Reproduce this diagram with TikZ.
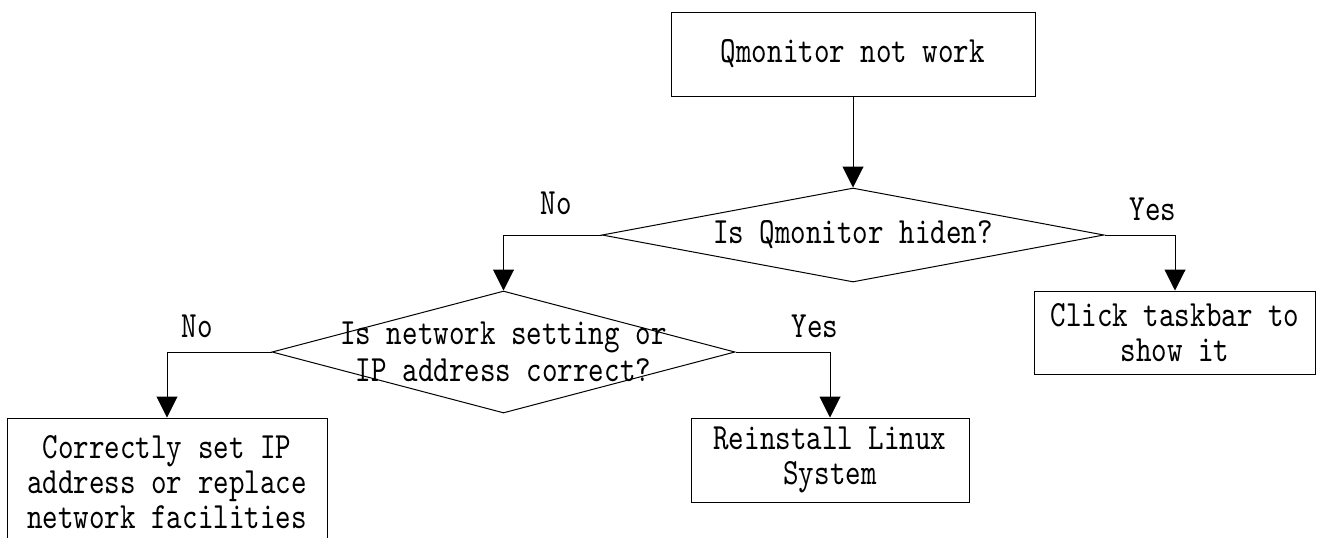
\documentclass[tikz,border=0pt]{standalone}
\usepackage{fontspec}
\newfontfamily\flowfont{lmmono10-regular.otf}[FakeStretch=0.80]
\usetikzlibrary{arrows.meta,shapes.geometric}
\tikzset{
  flowtext/.style={font=\flowfont\fontsize{27.75}{26.25}\selectfont},
  stepbox/.style={draw,rectangle,line width=0.75pt,align=center,inner sep=0pt,flowtext},
  decide/.style={draw,diamond,line width=0.75pt,inner sep=0pt},
  question/.style={align=center,inner sep=0pt,flowtext},
  answer/.style={anchor=base,inner sep=0pt,flowtext},
  flow/.style={-{Triangle[length=15.75pt,width=15.75pt]},line width=0.75pt}
}

\begin{document}
\begin{tikzpicture}[x=0.75pt,y=-0.75pt]
\clip (0,0) rectangle (1322,537);

\node[stepbox,minimum width=273pt,minimum height=63pt] (start) at (853,54) {Qmonitor not work};
\node[decide,minimum width=376.5pt,minimum height=70.5pt] (hidden) at (853,235) {};
\node[question] (hiddentxt) at (hidden) {Is Qmonitor hiden?};
\node[decide,minimum width=347.25pt,minimum height=91.5pt] (net) at (503.5,352) {};
\node[question] (nettxt) at (net) {Is network setting or\\[1.5pt]IP address correct?};
\node[stepbox,minimum width=210.75pt,minimum height=62.25pt] (taskbar) at (1175,332.5) {Click taskbar to\\show it};
\node[stepbox,minimum width=240pt,minimum height=96pt] (fixip) at (167,482) {Correctly set IP\\address or replace\\network facilities};
\node[stepbox,minimum width=208.5pt,minimum height=63pt] (reinstall) at (830,460) {Reinstall Linux\\System};

\node[answer] (hno) at (556,214) {No};
\node[answer] (hyes) at (1153,220) {Yes};
\node[answer] (nno) at (197,337) {No};
\node[answer] (nyes) at (815,337) {Yes};

\draw[flow] (start.south) -- (hidden.north);
\draw[flow] (hidden.west) -| (net.north);
\draw[flow] (hidden.east) -| (taskbar.north);
\draw[flow] (net.west) -| (fixip.north);
\draw[flow] (net.east) -| (reinstall.north);

\end{tikzpicture}
\end{document}
